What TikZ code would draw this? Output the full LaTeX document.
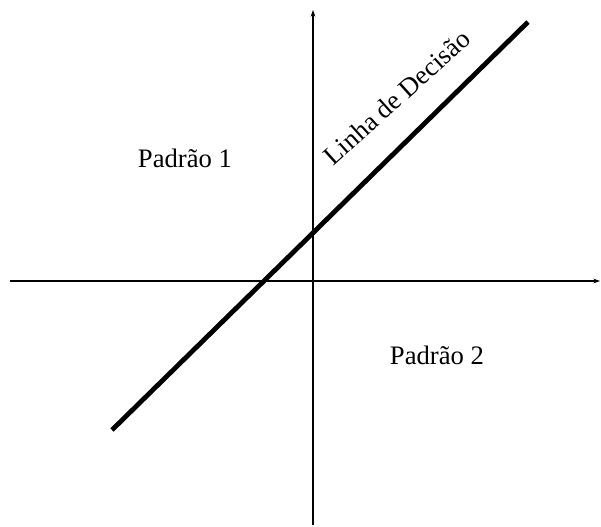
\documentclass[tikz,border=0pt]{standalone}
\usepackage{fontspec}
\setmainfont{Liberation Serif}
\usetikzlibrary{arrows.meta}

\begin{document}
\begin{tikzpicture}[x=0.75pt,y=-0.75pt,
  axis/.style={line width=1.3pt,-{Stealth[length=5pt,width=3.5pt]}},
  bound/.style={line width=3.6pt},
  lbl/.style={font=\fontsize{20}{24}\selectfont,inner sep=0pt}]
\useasboundingbox (0,0) rectangle (601,527);
\coordinate (xl) at (10,281);
\coordinate (xr) at (600,281);
\coordinate (yb) at (313,525);
\coordinate (yt) at (313,10);
\coordinate (dl) at (112,430);
\coordinate (du) at (528,22);
\draw[axis] (xl) -- (xr);
\draw[axis] (yb) -- (yt);
\draw[bound] (dl) -- (du);
\node[lbl,anchor=base] (p1) at (185,168) {Padrão 1};
\node[lbl,anchor=base] (p2) at (437,365) {Padrão 2};
\node[lbl,anchor=base,rotate=42] (ld) at (403,104) {Linha de Decisão};
\end{tikzpicture}
\end{document}
